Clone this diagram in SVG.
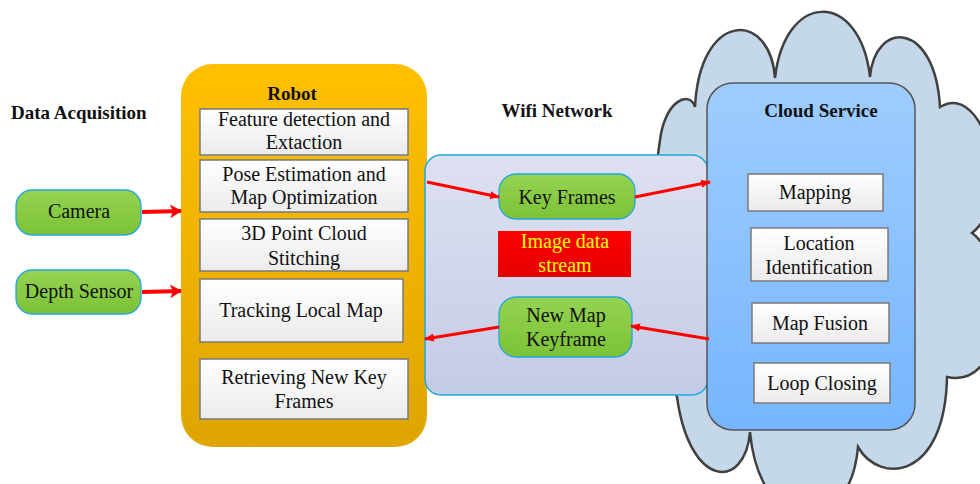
<svg xmlns="http://www.w3.org/2000/svg" width="980" height="484" viewBox="0 0 980 484">
<style>
text{font-family:"Liberation Serif","Times New Roman",serif;font-size:20px;fill:#111;text-anchor:middle}
.h{font-weight:bold;font-size:19px}
.box{fill:url(#gWhite);stroke:#7a7a7a;stroke-width:1.5}
.pill{fill:url(#gGreen);stroke:#22a7dd;stroke-width:1.3}
.arr{stroke:#ff0000;stroke-width:3;fill:none;marker-end:url(#ah)}
.arrB{stroke:#ff0000;stroke-width:4;fill:none;marker-end:url(#ahB)}
</style>
<defs>
<linearGradient id="gRobot" x1="0" y1="0" x2="0" y2="1"><stop offset="0" stop-color="#ffc000"/><stop offset="1" stop-color="#dea500"/></linearGradient>
<linearGradient id="gWhite" x1="0" y1="0" x2="0" y2="1"><stop offset="0" stop-color="#ffffff"/><stop offset="1" stop-color="#ebebeb"/></linearGradient>
<linearGradient id="gGreen" x1="0" y1="0" x2="0" y2="1"><stop offset="0" stop-color="#94d352"/><stop offset="1" stop-color="#7cc236"/></linearGradient>
<linearGradient id="gWifi" x1="0" y1="0" x2="0" y2="1"><stop offset="0" stop-color="#dde1f0"/><stop offset="1" stop-color="#c4cbe6"/></linearGradient>
<linearGradient id="gCloudSvc" x1="0" y1="0" x2="0" y2="1"><stop offset="0" stop-color="#9ecdff"/><stop offset="1" stop-color="#76b5ff"/></linearGradient>
<linearGradient id="gRed" x1="0" y1="0" x2="0" y2="1"><stop offset="0" stop-color="#ff0000"/><stop offset="1" stop-color="#e40000"/></linearGradient>
<marker id="ah" markerUnits="userSpaceOnUse" markerWidth="10" markerHeight="10" refX="9" refY="5" orient="auto"><path d="M0,1 L10,5 L0,9 Z" fill="#ff0000"/></marker>
<marker id="ahB" markerUnits="userSpaceOnUse" markerWidth="12" markerHeight="14" refX="11" refY="7" orient="auto"><path d="M0,0 L12,7 L0,14 L3,7 Z" fill="#ff0000"/></marker>
</defs>

<g id="cloud">
<path d="M695,107 C700,10 770,10 775,78 C785,-10 860,-10 870,77 C875,20 935,20 940,107 C985,80 1015,200 972,233 C1010,260 1010,390 947,377 C945,480 880,485 858,447 C850,540 760,540 750,432 C745,490 690,490 677,397 C655,350 650,200 660,140 C665,100 690,90 695,107 Z" fill="#c5d8e9" stroke="#404040" stroke-width="2.5" stroke-linejoin="miter"/>
</g>

<g id="data-acquisition"><text class="h" x="11" y="119" style="text-anchor:start">Data Acquisition</text></g>

<g id="camera"><rect class="pill" x="16" y="190" width="125" height="45" rx="16"/><text x="79" y="218">Camera</text></g>
<g id="depth-sensor"><rect class="pill" x="16" y="270" width="125" height="44" rx="16"/><text x="79" y="298">Depth Sensor</text></g>

<g id="robot">
<rect x="181" y="64" width="246" height="383" rx="32" fill="url(#gRobot)"/>
<text class="h" x="292" y="100">Robot</text>
</g>
<g id="feature"><rect class="box" x="200" y="109" width="208" height="46"/><text x="304" y="126">Feature detection and</text><text x="304" y="149">Extaction</text></g>
<g id="pose"><rect class="box" x="200" y="160" width="208" height="52"/><text x="304" y="181">Pose Estimation and</text><text x="304" y="204">Map Optimization</text></g>
<g id="pointcloud"><rect class="box" x="200" y="219" width="208" height="52"/><text x="304" y="240">3D Point Cloud</text><text x="304" y="265">Stitching</text></g>
<g id="tracking"><rect class="box" x="200" y="279" width="203" height="63"/><text x="301" y="317">Tracking Local Map</text></g>
<g id="retrieving"><rect class="box" x="200" y="359" width="208" height="60"/><text x="304" y="384">Retrieving New Key</text><text x="304" y="408">Frames</text></g>

<g id="wifi">
<text class="h" x="557" y="117">Wifi Network</text>
<rect x="425" y="155" width="283" height="240" rx="16" fill="url(#gWifi)" stroke="#1ca8e4" stroke-width="1.5"/>
</g>
<g id="key-frames"><rect class="pill" x="499" y="174" width="136" height="45" rx="17"/><text x="567" y="204">Key Frames</text></g>
<g id="image-stream"><rect x="498" y="231" width="133" height="46" fill="url(#gRed)"/><text x="565" y="248" style="fill:#ffff00">Image data</text><text x="565" y="272" style="fill:#ffff00">stream</text></g>
<g id="new-map"><rect class="pill" x="499" y="297" width="133" height="60" rx="17"/><text x="566" y="322">New Map</text><text x="566" y="346">Keyframe</text></g>

<g id="cloud-service">
<rect x="707" y="83" width="208" height="347" rx="26" fill="url(#gCloudSvc)" stroke="#555555" stroke-width="1.5"/>
<text class="h" x="821" y="117">Cloud Service</text>
</g>
<g id="mapping"><rect class="box" x="748" y="174" width="135" height="37"/><text x="815" y="199">Mapping</text></g>
<g id="location"><rect class="box" x="751" y="228" width="137" height="53"/><text x="819" y="250">Location</text><text x="819" y="274">Identification</text></g>
<g id="map-fusion"><rect class="box" x="752" y="303" width="137" height="40"/><text x="820" y="330">Map Fusion</text></g>
<g id="loop-closing"><rect class="box" x="754" y="363" width="136" height="40"/><text x="822" y="390">Loop Closing</text></g>

<g id="connectors">
<line class="arrB" x1="142" y1="212" x2="181" y2="211"/>
<line class="arrB" x1="142" y1="292" x2="181" y2="291"/>
<line class="arr" x1="427" y1="182" x2="499" y2="197"/>
<line class="arr" x1="635" y1="197" x2="710" y2="182"/>
<line class="arr" x1="709" y1="339" x2="631" y2="326"/>
<line class="arr" x1="499" y1="327" x2="425" y2="339"/>
</g>
</svg>
